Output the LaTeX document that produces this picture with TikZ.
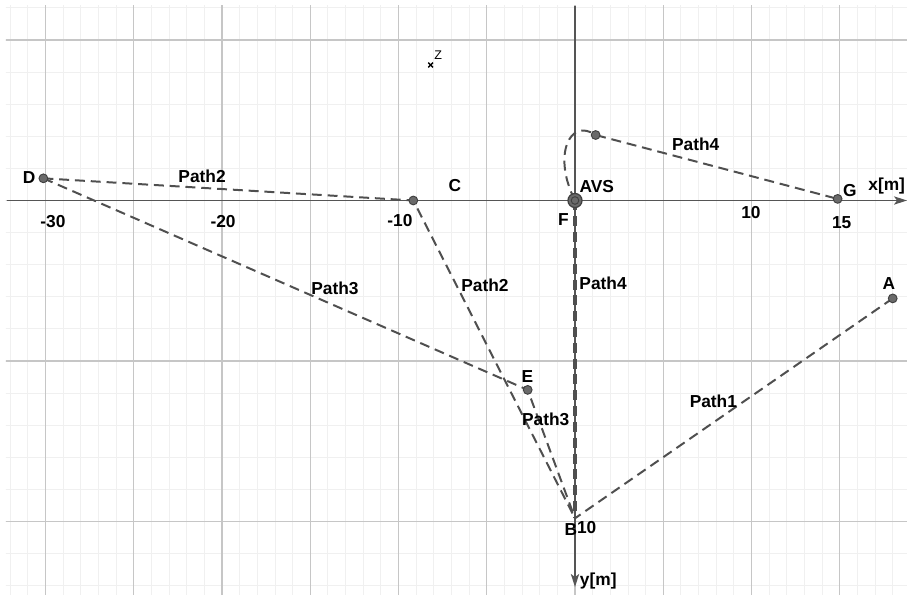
\documentclass[tikz,border=0pt]{standalone}
\usepackage{fontspec}
\setmainfont{Liberation Sans}
\usetikzlibrary{arrows.meta}
\definecolor{gridminor}{HTML}{F0F0F0}
\definecolor{gridmajor}{HTML}{C6C6C6}
\definecolor{axisgray}{HTML}{555555}
\definecolor{pathgray}{HTML}{4F4F4F}
\definecolor{ptgray}{HTML}{6A6A6A}
\tikzset{
  route/.style={pathgray, line width=1.7pt, dash pattern=on 8.5pt off 5pt},
  axisline/.style={axisgray, line width=1.7pt},
  ptdot/.style={circle, fill=ptgray, draw=black!75, line width=0.8pt, inner sep=0pt, minimum size=7.5pt},
  lbl/.style={font=\fontsize{14.8}{16}\selectfont\bfseries, inner sep=0pt},
}
\begin{document}
\begin{tikzpicture}[x=0.5295cm, y=-0.963cm]
  \useasboundingbox (-32.578,-6.246) rectangle (18.810,12.259);
  % grid
  \begin{scope}
    \clip (-32.24,-6.09) rectangle (18.810,12.259);
    \foreach \gx in {-32,...,18} \draw[gridminor, line width=0.7pt] (\gx,-7) -- (\gx,13);
    \foreach \gy in {-6,...,12} \draw[gridminor, line width=0.7pt] (-33,\gy) -- (19,\gy);
    \foreach \gx in {-30,-25,...,15} \draw[gridmajor, line width=1pt] (\gx,-7) -- (\gx,13);
    \foreach \gy in {-5,0,5,10} \draw[gridmajor, line width=1pt] (-33,\gy) -- (19,\gy);
  \end{scope}

  % axes
  \coordinate (xstart) at (-32.18,0);
  \coordinate (xend) at (18.81,0);
  \coordinate (ystart) at (0,-6.06);
  \coordinate (yend) at (0,12.04);
  \draw[axisline, -{Stealth[length=11pt,width=7pt,inset=2.5pt]}] (xstart) -- (xend);
  \draw[axisline, -{Stealth[length=11pt,width=7pt,inset=2.5pt]}] (ystart) -- (yend);

  \coordinate (O) at (0,0);
  \coordinate (A) at (18.0,3.05);
  \coordinate (B) at (0,9.9);
  \coordinate (C) at (-9.16,0);
  \coordinate (D) at (-30.12,-0.69);
  \coordinate (E) at (-2.68,5.9);
  \coordinate (G) at (14.88,-0.05);
  \coordinate (P) at (1.17,-2.04);
  \coordinate (Z) at (-8.18,-4.22);

  % paths
  \draw[route] (A) -- (B);
  \draw[route] (D) -- (C) -- (B);
  \draw[route] (D) -- (E) -- (B);
  \draw[route, line width=3.4pt] (O) -- (B);
  \draw[route] (O) .. controls (-1.3,-1.4) and (-0.3,-2.6) .. (P) -- (G);

  % points
  \node[ptdot] (dotA) at (A) {};
  \node[ptdot] (dotC) at (C) {};
  \node[ptdot] (dotD) at (D) {};
  \node[ptdot] (dotE) at (E) {};
  \node[ptdot] (dotG) at (G) {};
  \node[ptdot] (dotP) at (P) {};
  \node[ptdot, minimum size=12pt, line width=1.1pt] (dotO) at (O) {};
  \node[ptdot, minimum size=6.5pt] (dotOin) at (O) {};
  \draw[line width=1.2pt] ([shift={(-2pt,-2pt)}]Z) -- ([shift={(2pt,2pt)}]Z);
  \draw[line width=1.2pt] ([shift={(-2pt,2pt)}]Z) -- ([shift={(2pt,-2pt)}]Z);

  % labels
  \node[lbl] (labD) at (-30.93,-0.73) {D};
  \node[lbl] (labC) at (-6.80,-0.48) {C};
  \node[lbl] (labAVS) at (1.23,-0.42) {AVS};
  \node[lbl] (labF) at (-0.66,0.58) {F};
  \node[lbl] (labG) at (15.58,-0.31) {G};
  \node[lbl] (labA) at (17.79,2.58) {A};
  \node[lbl] (labE) at (-2.70,5.49) {E};
  \node[lbl] (labB) at (-0.24,10.26) {B};
  \node[font=\fontsize{10.7}{12}\selectfont, inner sep=0pt] (labZ) at (-7.75,-4.53) {Z};
  \node[lbl] (p2a) at (-21.13,-0.76) {Path2};
  \node[lbl] (p2b) at (-5.10,2.63) {Path2};
  \node[lbl] (p3a) at (-13.60,2.73) {Path3};
  \node[lbl] (p3b) at (-1.66,6.82) {Path3};
  \node[lbl] (p1) at (7.84,6.27) {Path1};
  \node[lbl] (p4a) at (6.84,-1.76) {Path4};
  \node[lbl] (p4b) at (1.59,2.57) {Path4};
  \node[lbl] (xlab) at (17.66,-0.46) {x[m]};
  \node[lbl] (ylab) at (1.32,11.85) {y[m]};
  \node[lbl] (tm30) at (-29.58,0.67) {-30};
  \node[lbl] (tm20) at (-19.94,0.67) {-20};
  \node[lbl] (tm10) at (-9.92,0.61) {-10};
  \node[lbl] (t10) at (9.97,0.39) {10};
  \node[lbl] (t15) at (15.11,0.69) {15};
  \node[lbl] (ty10) at (0.66,10.18) {10};
\end{tikzpicture}
\end{document}
